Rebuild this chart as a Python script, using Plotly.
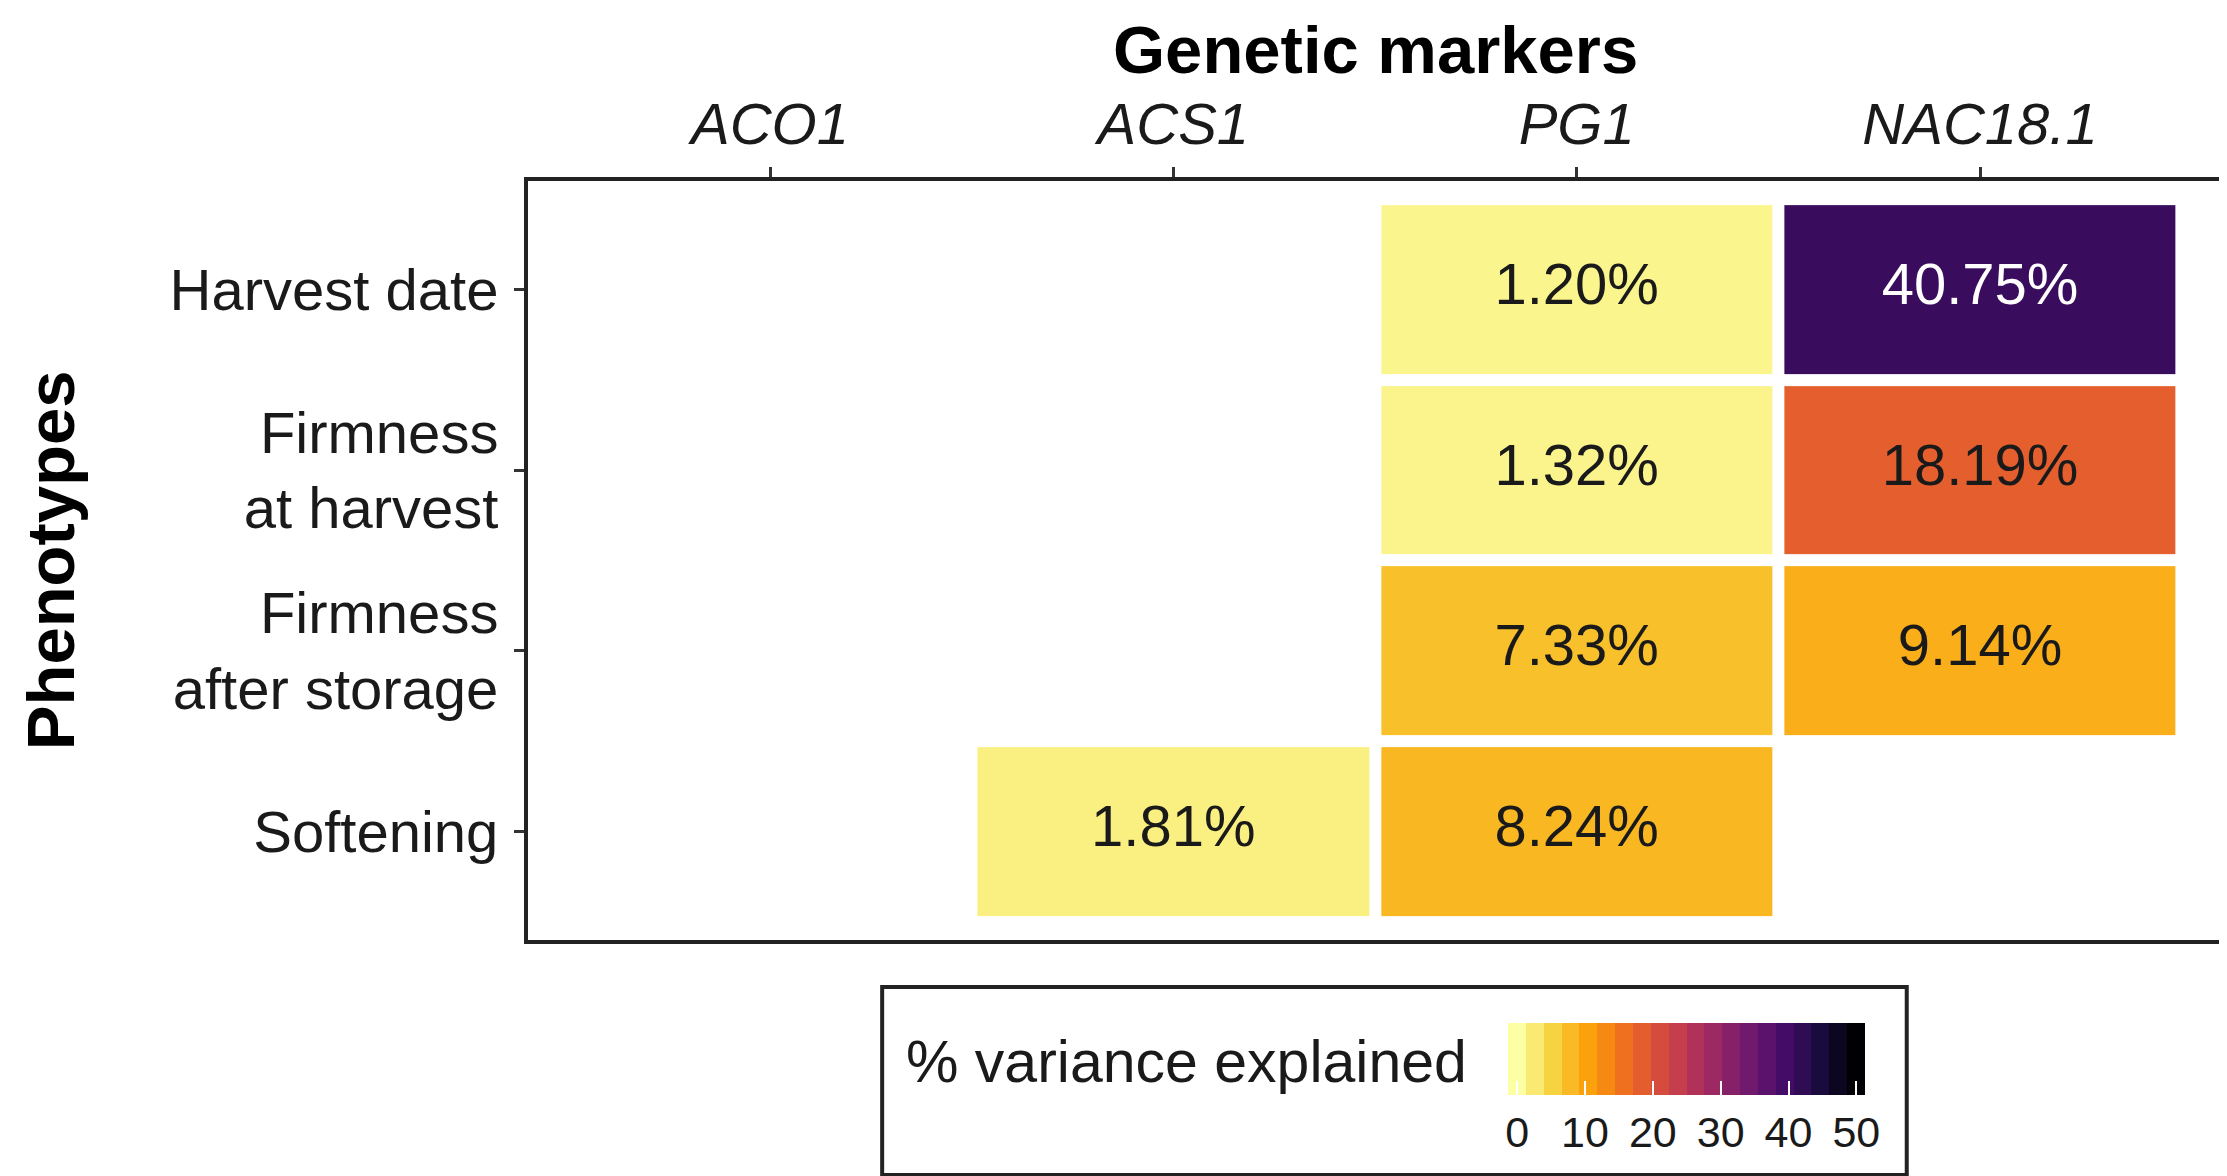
import plotly.graph_objects as go
from plotly.colors import sample_colorscale
import plotly.express as px

# ── DATA ─────────────────────────────────────────────────────────────────
MARKERS = ["ACO1", "ACS1", "PG1", "NAC18.1"]
PHENOTYPES = ["Harvest date", "Firmness<br>at harvest",
              "Firmness<br>after storage", "Softening"]

# % variance explained, rows = phenotypes, cols = markers (None = not significant)
HARVEST_DATE = [None, None, 1.20, 40.75]
FIRM_HARVEST = [None, None, 1.32, 18.19]
FIRM_STORAGE = [None, None, 7.33, 9.14]
SOFTENING = [None, 1.81, 8.24, None]

Z = [HARVEST_DATE, FIRM_HARVEST, FIRM_STORAGE, SOFTENING]

ZMIN, ZMAX = 0, 50
CB_TICKS = [0, 10, 20, 30, 40, 50]

FONT = "Liberation Sans"
SCALE = px.colors.sequential.Inferno_r

# ── LAYOUT (pixels) ──────────────────────────────────────────────────────
W, H = 2227, 1176
L, R, T, B = 520, 9, 173, 244
PW, PH = W - L - R, H - T - B


def px_x(x):
    return (x - L) / PW


def px_y(y):
    return (H - B - y) / PH


# stepped legend bar, 20 bins like ggplot's colourbar (half a bin of padding
# at each end so 0 and 50 sit on bin centres)
NBIN = 20
half = (ZMAX - ZMIN) / (NBIN - 1) / 2
bin_cols = sample_colorscale(SCALE, [i / (NBIN - 1) for i in range(NBIN)])
stepped = []
for i, c in enumerate(bin_cols):
    stepped.append([i / NBIN, c])
    stepped.append([(i + 1) / NBIN, c])

# text labels for the filled cells
lab_x, lab_y, lab_t, lab_c = [], [], [], []
for r, row in enumerate(Z):
    for c, v in enumerate(row):
        if v is None:
            continue
        lab_x.append(MARKERS[c])
        lab_y.append(PHENOTYPES[r])
        lab_t.append(f"{v:.2f}%")
        lab_c.append("white" if v > 30 else "#1a1a1a")

fig = go.Figure()

fig.add_trace(go.Heatmap(
    z=Z, x=MARKERS, y=PHENOTYPES,
    colorscale=SCALE, zmin=ZMIN, zmax=ZMAX,
    xgap=12, ygap=12,
    showscale=False,
    hovertemplate="%{y}<br>%{x}: %{z:.2f}%<extra></extra>",
))

fig.add_trace(go.Scatter(
    x=lab_x, y=lab_y, text=lab_t, mode="text",
    textfont=dict(family=FONT, size=58, color=lab_c),
    hoverinfo="skip", showlegend=False,
))

# invisible trace carrying the stepped colour bar
fig.add_trace(go.Scatter(
    x=[None], y=[None], mode="markers", showlegend=False, hoverinfo="skip",
    marker=dict(
        color=[ZMIN], cmin=ZMIN - half, cmax=ZMAX + half,
        colorscale=stepped, showscale=True,
        colorbar=dict(
            orientation="h",
            x=px_x(1681.5), xanchor="center",
            y=px_y(1015), yanchor="top",
            len=357, lenmode="pixels",
            thickness=72, thicknessmode="pixels",
            xpad=0, ypad=0,
            outlinewidth=0,
            tickvals=CB_TICKS,
            ticks="inside", ticklen=14, tickcolor="white", tickwidth=2,
            tickfont=dict(family=FONT, size=43, color="#1a1a1a"),
        ),
    ),
))

fig.update_xaxes(
    type="category", side="top", range=[-0.6, 3.6],
    showline=True, mirror=True, linecolor="#222222", linewidth=4,
    ticks="outside", ticklen=10, tickwidth=3, tickcolor="#333333",
    tickfont=dict(family=FONT, size=58, color="#1a1a1a", style="italic"),
    showgrid=False, zeroline=False, fixedrange=True,
)
fig.update_yaxes(
    type="category", range=[3.6, -0.6],
    showline=True, mirror=True, linecolor="#222222", linewidth=4,
    ticks="outside", ticklen=10, tickwidth=3, tickcolor="#333333",
    ticklabelstandoff=4,
    tickfont=dict(family=FONT, size=58, color="#1a1a1a"),
    showgrid=False, zeroline=False, fixedrange=True,
)

fig.update_layout(
    width=W, height=H,
    margin=dict(l=L, r=R, t=T, b=B),
    paper_bgcolor="white", plot_bgcolor="white",
    font=dict(family=FONT, color="#1a1a1a"),
    annotations=[
        dict(text="<b>Genetic markers</b>", xref="paper", yref="paper",
             x=0.5, y=px_y(2), xanchor="center", yanchor="top",
             showarrow=False, font=dict(family=FONT, size=67, color="black")),
        dict(text="<b>Phenotypes</b>", xref="paper", yref="paper",
             x=px_x(2), y=0.5, xanchor="left", yanchor="middle", textangle=-90,
             showarrow=False, font=dict(family=FONT, size=67, color="black")),
        dict(text="% variance explained", xref="paper", yref="paper",
             x=px_x(897), y=px_y(1054), xanchor="left", yanchor="middle",
             showarrow=False, font=dict(family=FONT, size=59, color="#1a1a1a")),
    ],
    shapes=[
        dict(type="rect", xref="paper", yref="paper",
             x0=px_x(875), x1=px_x(1902), y0=px_y(1167), y1=px_y(979),
             line=dict(color="#222222", width=4), fillcolor="rgba(0,0,0,0)",
             layer="below"),
    ],
)

fig.write_html("out.html")
